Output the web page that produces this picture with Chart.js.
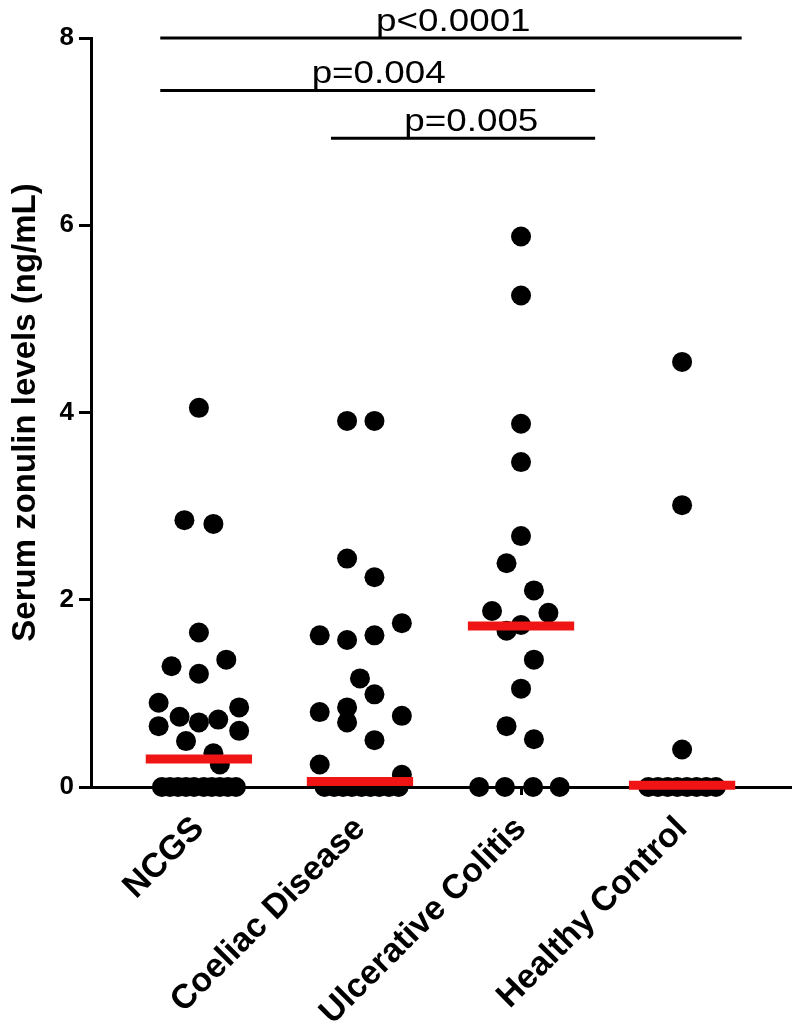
<!DOCTYPE html>
<html>
<head>
<meta charset="utf-8">
<script src="https://cdn.jsdelivr.net/npm/chart.js@4.4.1/dist/chart.umd.min.js"></script>
<style>
    html, body { margin: 0; padding: 0; background: #fff; }
    #wrap { width: 800px; height: 1032px; }
</style>
</head>
<body>
<div id="wrap"><canvas id="zonulin-chart"></canvas></div>
<script>
/* ------------------------------------------------------------------ */
/*  Data (serum zonulin, ng/mL)                    */
/* ------------------------------------------------------------------ */

const categories = ['NCGS', 'Coeliac Disease', 'Ulcerative Colitis', 'Healthy Control'];

// jitter = sideways spread of a dot inside its column, in column units
const ncgs_values = [4.05, 2.85, 2.81, 1.65, 1.29, 1.21, 1.36, 0.90, 0.75, 0.69, 0.72, 0.85, 0.65, 0.60, 0.49, 0.36, 0.24,
    0, 0, 0, 0, 0, 0, 0, 0, 0, 0];
const ncgs_jitter = [0, -0.09, 0.09, 0, -0.17, 0, 0.17, -0.25, -0.12, 0, 0.12, 0.25, -0.25, 0.25, -0.08, 0.09, 0.13,
    -0.23, -0.18, -0.13, -0.08, -0.03, 0.03, 0.08, 0.13, 0.18, 0.23];

const coeliac_values = [3.91, 3.91, 2.44, 2.24, 1.62, 1.57, 1.62, 1.75, 1.16, 0.99, 0.80, 0.85, 0.69, 0.76, 0.50, 0.24, 0.13,
    0, 0, 0, 0, 0, 0, 0, 0, 0];
const coeliac_jitter = [-0.08, 0.09, -0.08, 0.09, -0.25, -0.08, 0.09, 0.26, 0, 0.09, -0.25, -0.08, -0.08, 0.26, 0.09, -0.25, 0.26,
    -0.22, -0.16, -0.105, -0.05, 0.01, 0.065, 0.12, 0.18, 0.24];

const colitis_values = [5.88, 5.25, 3.88, 3.47, 2.68, 2.39, 2.10, 1.88, 1.86, 1.73, 1.67, 1.36, 1.05, 0.65, 0.51,
    0, 0, 0, 0];
const colitis_jitter = [0, 0, 0, 0, 0, -0.09, 0.08, -0.18, 0.17, 0, -0.09, 0.08, 0, -0.09, 0.08,
    -0.26, -0.10, 0.075, 0.24];

const control_values = [4.54, 3.01, 0.40, 0, 0, 0, 0, 0, 0, 0, 0];
const control_jitter = [0, 0, 0, -0.21, -0.15, -0.09, -0.03, 0.03, 0.09, 0.15, 0.21];

const medians = [0.30, 0.06, 1.72, 0.02];

const yTicks = [0, 2, 4, 6, 8];

// significance brackets: label, span (column units) and height (ng/mL)
const bracketLabels = ['p<0.0001', 'p=0.004', 'p=0.005'];
const bracketFrom = [-0.24, -0.24, 0.82];
const bracketTo = [3.37, 2.46, 2.46];
const bracketLevel = [8.0, 7.44, 6.93];
const bracketTextAt = [1.10, 0.70, 1.275];

/* ------------------------------------------------------------------ */
/*  Helpers                                                            */
/* ------------------------------------------------------------------ */

const FONT = '"Liberation Sans", Arial, Helvetica, sans-serif';

function groupPoints(index, values, jitter) {
    return values.map((v, i) => ({ x: index + jitter[i], y: v }));
}

function dotDataset(index, values, jitter) {
    return {
        type: 'scatter',
        data: groupPoints(index, values, jitter),
        backgroundColor: '#000',
        borderWidth: 0,
        pointRadius: 10,
        pointHoverRadius: 10,
        clip: false,
        order: 2
    };
}

function segment(x0, x1, y, color, width, order) {
    return {
        type: 'scatter',
        data: [{ x: x0, y: y }, { x: x1, y: y }],
        showLine: true,
        borderColor: color,
        borderWidth: width,
        borderCapStyle: 'butt',
        pointRadius: 0,
        clip: false,
        order: order
    };
}

const groups = [
    [ncgs_values, ncgs_jitter],
    [coeliac_values, coeliac_jitter],
    [colitis_values, colitis_jitter],
    [control_values, control_jitter]
];

const datasets = [];
groups.forEach(([vals, jit], i) => datasets.push(dotDataset(i, vals, jit)));
medians.forEach((m, i) => datasets.push(segment(i - 0.33, i + 0.33, m, '#f01515', 9, 1)));
bracketLabels.forEach((_, i) => datasets.push(segment(bracketFrom[i], bracketTo[i], bracketLevel[i], '#000', 3, 0)));

/** Writes the p-values just above their bracket lines. */
const bracketText = {
    id: 'bracketText',
    afterDatasetsDraw(chart) {
        const { ctx, scales: { x, y } } = chart;
        ctx.save();
        ctx.fillStyle = '#000';
        ctx.font = '32px ' + FONT;
        ctx.textAlign = 'left';
        ctx.textBaseline = 'alphabetic';
        bracketLabels.forEach((label, i) => {
            ctx.save();
            ctx.translate(x.getPixelForValue(bracketTextAt[i]), y.getPixelForValue(bracketLevel[i]) - 7);
            ctx.scale(1.15, 1);
            ctx.fillText(label, 0, 0);
            ctx.restore();
        });
        ctx.restore();
    }
};

new Chart(document.getElementById('zonulin-chart'), {
    type: 'scatter',
    data: { datasets: datasets },
    plugins: [bracketText],
    options: {
        animation: false,
        responsive: true,
        maintainAspectRatio: false,
        layout: { padding: { top: 38, right: 5, left: 0, bottom: 0 } },
        plugins: {
            legend: { display: false },
            tooltip: { enabled: false }
        },
        scales: {
            x: {
                type: 'linear',
                min: -0.67,
                max: 3.67,
                afterBuildTicks: (s) => { s.ticks = categories.map((c, i) => ({ value: i })); },
                afterFit: (s) => { s.height = 245; },
                grid: { drawOnChartArea: false, drawTicks: true, tickLength: 8, color: '#000', lineWidth: 3 },
                border: { display: true, color: '#000', width: 3 },
                ticks: {
                    autoSkip: false,
                    minRotation: 45,
                    maxRotation: 45,
                    padding: 14,
                    color: '#000',
                    font: { family: FONT, size: 34, weight: 'bold' },
                    callback: (v) => categories[v] ?? ''
                }
            },
            y: {
                min: 0,
                max: 8,
                afterBuildTicks: (s) => { s.ticks = yTicks.map(v => ({ value: v })); },
                afterFit: (s) => { s.width = 91; },
                grid: { drawOnChartArea: false, drawTicks: true, tickLength: 12, color: '#000', lineWidth: 3 },
                border: { display: true, color: '#000', width: 3 },
                ticks: {
                    padding: 5,
                    color: '#000',
                    font: { family: FONT, size: 26, weight: 'bold' }
                },
                title: {
                    display: true,
                    text: 'Serum zonulin levels (ng/mL)',
                    color: '#000',
                    padding: { top: 6, bottom: 0 },
                    font: { family: FONT, size: 33, weight: 'bold' }
                }
            }
        }
    }
});
</script>
</body>
</html>
